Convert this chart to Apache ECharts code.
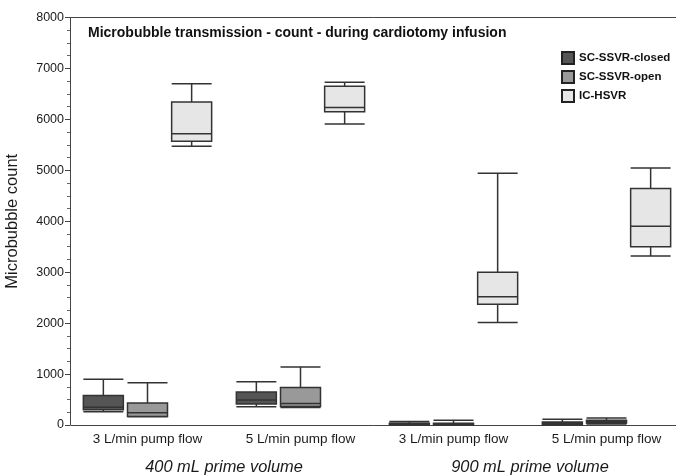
<!DOCTYPE html>
<html>
<head>
<meta charset="utf-8">
<script src="https://cdn.jsdelivr.net/npm/echarts@6/dist/echarts.min.js"></script>
<style>
  html, body { margin: 0; padding: 0; background: #fff; }
  #chart { width: 676px; height: 476px; }
</style>
</head>
<body>
<div id="chart"></div>
<script>
// categories (pump flow) and groups (prime volume)
const flowLabels = ['3 L/min pump flow', '5 L/min pump flow', '3 L/min pump flow', '5 L/min pump flow'];
const primeLabels = ['400 mL prime volume', '900 mL prime volume'];
const seriesNames = ['SC-SSVR-closed', 'SC-SSVR-open', 'IC-HSVR'];
const seriesColors = ['#555555', '#999999', '#e6e6e6'];

// [min, Q1, median, Q3, max]
const closedData = [
  [260, 300, 350, 580, 900],
  [360, 410, 490, 650, 850],
  [0, 5, 20, 35, 70],
  [0, 5, 30, 60, 115]
];
const openData = [
  [160, 165, 240, 430, 830],
  [345, 365, 420, 735, 1140],
  [0, 5, 15, 35, 95],
  [20, 40, 70, 95, 135]
];
const hsvrData = [
  [5470, 5570, 5720, 6340, 6700],
  [5910, 6150, 6235, 6650, 6730],
  [2010, 2370, 2520, 3000, 4940],
  [3320, 3500, 3900, 4645, 5045]
];
const allData = [closedData, openData, hsvrData];

const chart = echarts.init(document.getElementById('chart'));
const font = 'Liberation Sans, Arial, sans-serif';

chart.setOption({
  animation: false,
  backgroundColor: '#fff',
  textStyle: { fontFamily: font },
  title: {
    text: 'Microbubble transmission - count - during cardiotomy infusion',
    left: 83, top: 21,
    textStyle: { fontSize: 14, fontWeight: 'bold', color: '#111', fontFamily: font }
  },
  legend: {
    orient: 'vertical',
    left: 556, top: 46,
    itemWidth: 12, itemHeight: 12, itemGap: 5,
    textStyle: { fontSize: 11.5, fontWeight: 'bold', color: '#111', fontFamily: font },
    data: seriesNames.map((n, i) => ({
      name: n, icon: 'rect',
      itemStyle: { color: seriesColors[i], borderColor: '#222', borderWidth: 2 }
    }))
  },
  grid: { left: 71, right: -7, top: 17.5, bottom: 51, outerBoundsMode: 'none', containLabel: false },
  xAxis: [
    {
      type: 'category', data: flowLabels,
      axisLine: { lineStyle: { color: '#444', width: 1 } },
      axisTick: { alignWithLabel: true, length: 4, lineStyle: { color: '#444' } },
      axisLabel: { fontSize: 13.5, color: '#1a1a1a', margin: 7, fontFamily: font },
      splitLine: { show: false }
    },
    {
      type: 'category', data: primeLabels, position: 'bottom', offset: 26,
      axisLine: { show: false }, axisTick: { show: false },
      axisLabel: { fontSize: 16.4, fontStyle: 'italic', color: '#1a1a1a', fontFamily: font },
      splitLine: { show: false }
    },
    {
      type: 'category', data: flowLabels, position: 'top',
      axisLine: { lineStyle: { color: '#444', width: 1 } },
      axisTick: { show: false }, axisLabel: { show: false },
      splitLine: { show: false }
    }
  ],
  yAxis: {
    type: 'value', min: 0, max: 8000, interval: 1000, offset: 1,
    name: 'Microbubble count', nameLocation: 'middle', nameGap: 49, nameMoveOverlap: false,
    nameTextStyle: { fontSize: 16.5, color: '#1a1a1a', fontFamily: font },
    axisLine: { show: true, lineStyle: { color: '#444', width: 1 } },
    axisTick: { show: true, length: 5, lineStyle: { color: '#444' } },
    minorTick: { show: true, splitNumber: 4, length: 3, lineStyle: { color: '#666' } },
    axisLabel: { fontSize: 12.5, color: '#1a1a1a', margin: 6, fontFamily: font, formatter: v => String(v) },
    splitLine: { show: false }
  },
  series: allData.map((d, i) => ({
    name: seriesNames[i],
    type: 'boxplot',
    xAxisIndex: 0,
    boxWidth: [40, 40],
    data: d,
    itemStyle: { color: seriesColors[i], borderColor: '#333', borderWidth: 1.5 }
  }))
});
</script>
</body>
</html>
